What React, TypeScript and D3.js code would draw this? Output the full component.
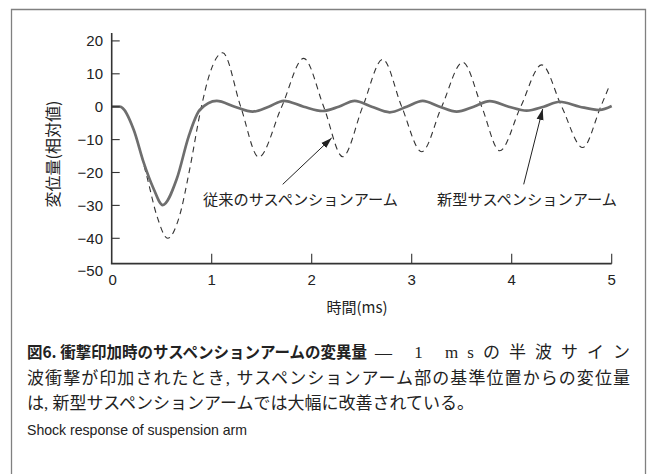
import React from "react";
import * as d3 from "d3";

const W = 656;
const H = 474;

const xTicks = [0, 1, 2, 3, 4, 5];
const yTicks = [20, 10, 0, -10, -20, -30, -40, -50];

// 従来のサスペンションアーム (dashed)
const timeConventional = [0, 0.08, 0.22, 0.35, 0.45, 0.56, 0.68, 0.78, 0.89, 0.98, 1.11, 1.29, 1.47, 1.7, 1.92, 2.12, 2.31, 2.51, 2.71, 2.9, 3.1, 3.3, 3.51, 3.7, 3.88, 4.09, 4.3, 4.5, 4.71, 4.89, 4.98];
const dispConventional = [0, 0, -7, -21, -33, -40, -33, -19, -1, 10, 16.4, 0, -15.3, 0, 14.7, 0, -15.2, 0, 14.4, 0, -13.7, 0, 13.5, 0, -13.4, 0, 12.7, 0, -12.4, 0, 6.6];

// 新型サスペンションアーム (solid)
const timeNew = [0, 0.08, 0.22, 0.32, 0.42, 0.51, 0.65, 0.77, 0.88, 1.05, 1.23, 1.41, 1.57, 1.72, 1.92, 2.11, 2.27, 2.43, 2.6, 2.78, 2.95, 3.11, 3.28, 3.45, 3.62, 3.78, 3.97, 4.15, 4.32, 4.48, 4.68, 4.88, 5.0];
const dispNew = [0, 0, -7, -17, -25, -29.9, -22, -9, -1, 1.8, 0, -1.5, 0, 1.8, 0, -1.3, 0, 1.8, 0, -1.7, 0, 1.8, 0, -1.5, 0, 1.7, 0, -1.2, 0, 1.5, 0, -1.0, 0.2];

const xLabel = "時間(ms)";
const yLabel = "変位量(相対値)";
const labelConventional = "従来のサスペンションアーム";
const labelNew = "新型サスペンションアーム";
const captionBold = "図6. 衝撃印加時のサスペンションアームの変異量";
const captionRest1 = "— 1 msの半波サイン";
const captionLine2 = "波衝撃が印加されたとき, サスペンションアーム部の基準位置からの変位量";
const captionLine3 = "は, 新型サスペンションアームでは大幅に改善されている。";
const captionEn = "Shock response of suspension arm";

const SANS = "'Liberation Sans', Arial, sans-serif";
const JP = "'Noto Sans CJK JP', sans-serif";
const SERIF = "'Liberation Serif', 'Noto Sans CJK JP', serif";

const fmt = (v: number) => (v < 0 ? "\u2212" + Math.abs(v) : String(v));

export default function App() {
  const x = d3.scaleLinear().domain([0, 5]).range([111.7, 611.7]);
  const y = d3.scaleLinear().domain([-50, 20]).range([271.2, 40.9]);
  const line = d3
    .line<[number, number]>()
    .x((d) => x(d[0]))
    .y((d) => y(d[1]))
    .curve(d3.curveMonotoneX);

  const convPts = timeConventional.map((t, i) => [t, dispConventional[i]] as [number, number]);
  const newPts = timeNew.map((t, i) => [t, dispNew[i]] as [number, number]);

  const axisY = y(-47.7);
  const axisTop = y(22.4);

  return (
    <svg
      width={W}
      height={H}
      viewBox={`0 0 ${W} ${H}`}
      style={{ position: "absolute", left: 0, top: 0, background: "#fff" }}
    >
      <defs>
        <marker id="arr" markerUnits="userSpaceOnUse" markerWidth={12} markerHeight={8} refX={11} refY={4} orient="auto">
          <path d="M0,0.5 L11,4 L0,7.5 z" fill="#222" />
        </marker>
      </defs>
      <rect x={0} y={0} width={W} height={H} fill="#fff" />
      {/* frame */}
      <path d={`M11.5,${H + 5} V9.5 H645.5 V${H + 5}`} fill="none" stroke="#808080" strokeWidth={1.3} />

      {/* curves */}
      <path d={line(convPts) || ""} fill="none" stroke="#333" strokeWidth={1.1} strokeDasharray="6,4.5" />
      <path d={line(newPts) || ""} fill="none" stroke="#6e6e6e" strokeWidth={2.7} />

      {/* axes */}
      <line x1={x(0)} x2={x(0)} y1={axisTop} y2={axisY} stroke="#333" strokeWidth={1.6} />
      <line x1={x(0) - 0.8} x2={x(5)} y1={axisY} y2={axisY} stroke="#333" strokeWidth={1.6} />
      {yTicks
        .filter((v) => v > -50)
        .map((v) => (
          <line key={"yt" + v} x1={x(0)} x2={x(0) + 8} y1={y(v)} y2={y(v)} stroke="#333" strokeWidth={1.1} />
        ))}
      {xTicks
        .filter((t) => t > 0)
        .map((t) => (
          <line key={"xt" + t} x1={x(t)} x2={x(t)} y1={axisY} y2={axisY - 10} stroke="#333" strokeWidth={1.1} />
        ))}
      {yTicks.map((v) => (
        <text key={"yl" + v} x={103} y={y(v)} dy="0.35em" textAnchor="end" fontFamily={SANS} fontSize={15} fill="#222">
          {fmt(v)}
        </text>
      ))}
      {xTicks.map((t) => (
        <text key={"xl" + t} x={x(t) + (t === 0 ? 1 : 0)} y={280} dy="0.35em" textAnchor="middle" fontFamily={SANS} fontSize={15} fill="#222">
          {t}
        </text>
      ))}

      {/* axis titles */}
      <text x={357} y={308} dy="0.35em" textAnchor="middle" fontFamily={JP} fontSize={15} fill="#222">
        {xLabel}
      </text>
      <text
        transform={`translate(53,154) rotate(-90)`}
        dy="0.35em"
        textAnchor="middle"
        fontFamily={JP}
        fontSize={16}
        fill="#222"
        textLength={107}
        lengthAdjust="spacingAndGlyphs"
      >
        {yLabel}
      </text>

      {/* annotations */}
      <text x={203} y={200} dy="0.35em" fontFamily={JP} fontSize={15} fill="#222" textLength={195} lengthAdjust="spacingAndGlyphs">
        {labelConventional}
      </text>
      <text x={437} y={200} dy="0.35em" fontFamily={JP} fontSize={15} fill="#222" textLength={180} lengthAdjust="spacingAndGlyphs">
        {labelNew}
      </text>
      <line x1={x(1.71)} y1={y(-23.6)} x2={x(2.2)} y2={y(-9.5)} stroke="#222" strokeWidth={1} markerEnd="url(#arr)" />
      <line x1={x(4.12)} y1={y(-23.6)} x2={x(4.31)} y2={y(-0.7)} stroke="#222" strokeWidth={1} markerEnd="url(#arr)" />

      {/* caption */}
      <text x={27} y={358} fontFamily={JP} fontWeight={700} fontSize={16.2} fill="#222" textLength={340} lengthAdjust="spacingAndGlyphs">
        {captionBold}
      </text>
      <text x={375} y={358} fontFamily={SERIF} fontSize={17} fill="#222" textLength={255} lengthAdjust="spacing">
        {captionRest1}
      </text>
      <text x={27} y={384} fontFamily={SERIF} fontSize={17} fill="#222" textLength={603} lengthAdjust="spacing">
        {captionLine2}
      </text>
      <text x={27} y={409} fontFamily={SERIF} fontSize={17} fill="#222">
        {captionLine3}
      </text>
      <text x={27} y={435} fontFamily={SANS} fontSize={15} fill="#222" textLength={220} lengthAdjust="spacingAndGlyphs">
        {captionEn}
      </text>
    </svg>
  );
}
